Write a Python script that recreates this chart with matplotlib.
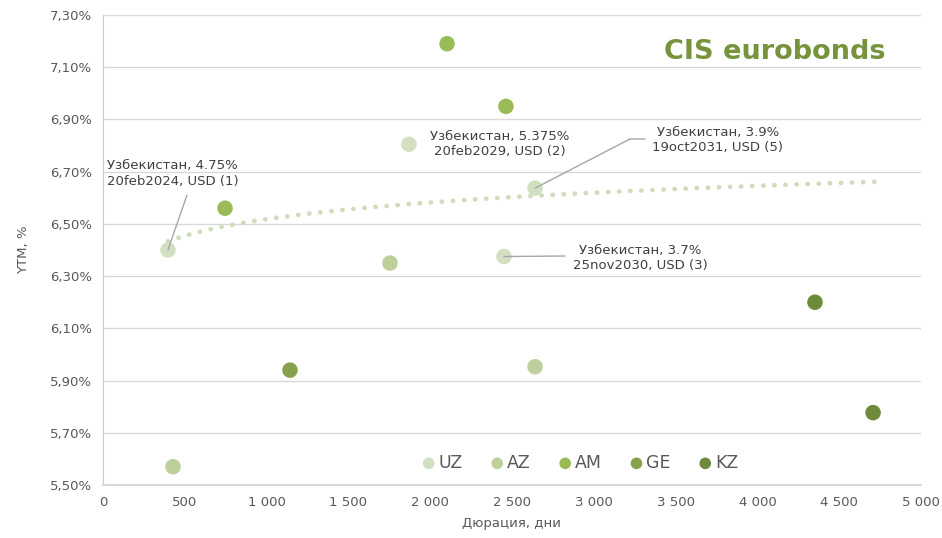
import matplotlib
matplotlib.use("Agg")
import matplotlib.pyplot as plt
import numpy as np
from matplotlib.ticker import FuncFormatter, FixedLocator, MultipleLocator

# duration (days) and YTM (%) per country
uz_dur = [397, 1870, 2641, 2451]
uz_ytm = [6.40, 6.805, 6.637, 6.375]
az_dur = [428, 1754, 2641]
az_ytm = [5.57, 6.35, 5.953]
am_dur = [746, 2103, 2463]
am_ytm = [6.56, 7.19, 6.95]
ge_dur = [1143]
ge_ytm = [5.94]
kz_dur = [4352, 4707]
kz_ytm = [6.20, 5.777]

trend_end = 4720
y_ticks = [5.5, 5.7, 5.9, 6.1, 6.3, 6.5, 6.7, 6.9, 7.1, 7.3]

notes = [
    "Узбекистан, 4.75%\n20feb2024, USD (1)",
    "Узбекистан, 5.375%\n20feb2029, USD (2)",
    "Узбекистан, 3.7%\n25nov2030, USD (3)",
    "Узбекистан, 3.9%\n19oct2031, USD (5)",
]

series = [
    ("UZ", uz_dur, uz_ytm, "#d3dfc1"),
    ("AZ", az_dur, az_ytm, "#bdd09c"),
    ("AM", am_dur, am_ytm, "#9bbb59"),
    ("GE", ge_dur, ge_ytm, "#87a24c"),
    ("KZ", kz_dur, kz_ytm, "#6e8a3b"),
]

grey = "#595959"
grid = "#d9d9d9"

fig = plt.figure(figsize=(9.42, 5.38), dpi=100)
ax = fig.add_axes([103 / 942, 53 / 538, 818 / 942, 470 / 538])

# log trendline through the UZ bonds
coef = np.polyfit(np.log(uz_dur), uz_ytm, 1)
tx = np.linspace(min(uz_dur), trend_end, 200)
ax.plot(tx, coef[0] * np.log(tx) + coef[1], color="#d0ddbc", lw=3.4,
        linestyle=(0, (0.05, 2.3)), dash_capstyle="round", zorder=2)

for name, xs, ys, col in series:
    ax.scatter(xs, ys, s=125, color=col, edgecolors="none", label=name, zorder=3)

ax.set_xlim(0, 5000)
ax.set_ylim(5.5, 7.3)
ax.xaxis.set_major_locator(MultipleLocator(500))
ax.yaxis.set_major_locator(FixedLocator(y_ticks))
ax.xaxis.set_major_formatter(FuncFormatter(lambda v, _: f"{int(v):,}".replace(",", " ")))
ax.yaxis.set_major_formatter(FuncFormatter(lambda v, _: f"{v:.2f}%".replace(".", ",")))
ax.tick_params(length=0, labelsize=9.5, labelcolor=grey, pad=8)
ax.grid(axis="y", color=grid, lw=1)
ax.set_axisbelow(True)
for side in ("top", "right"):
    ax.spines[side].set_visible(False)
ax.spines["left"].set_color("#c8c8c8")
ax.spines["bottom"].set_color(grid)
ax.spines["bottom"].set_linewidth(1.5)

ax.set_xlabel("Дюрация, дни", fontsize=9.5, color=grey, labelpad=6)
ax.set_ylabel("YTM, %", fontsize=9.5, color=grey, labelpad=14)

# callouts: leader lines first, then the label text
lead = dict(arrowstyle="-", color="#a6a6a6", lw=1, shrinkA=0, shrinkB=0)
txt = dict(fontsize=9.5, color="#404040", ha="center", va="center", linespacing=1.25)

ax.annotate("", xy=(uz_dur[0], uz_ytm[0]), xytext=(513, 6.61), arrowprops=lead)
ax.text(425, 6.693, notes[0], **txt)

ax.text(2427, 6.806, notes[1], **txt)

ax.annotate("", xy=(uz_dur[3], uz_ytm[3]), xytext=(2824, 6.377), arrowprops=lead)
ax.text(3282, 6.369, notes[2], **txt)

ax.annotate("", xy=(uz_dur[2], uz_ytm[2]), xytext=(3221, 6.825), arrowprops=lead)
ax.annotate("", xy=(3221, 6.825), xytext=(3313, 6.825), arrowprops=lead)
ax.text(3759, 6.821, notes[3], **txt)

ax.text(4108, 7.158, "CIS eurobonds", fontsize=19.5, fontweight="bold",
        color="#77933c", ha="center", va="center")

leg = ax.legend(loc="center", bbox_to_anchor=(0.583, 0.047), ncol=5, frameon=False,
                fontsize=12.5, handlelength=0.8, handletextpad=0.15,
                columnspacing=1.6, markerscale=0.75)
for t in leg.get_texts():
    t.set_color(grey)

fig.savefig("out.png", dpi=100)
